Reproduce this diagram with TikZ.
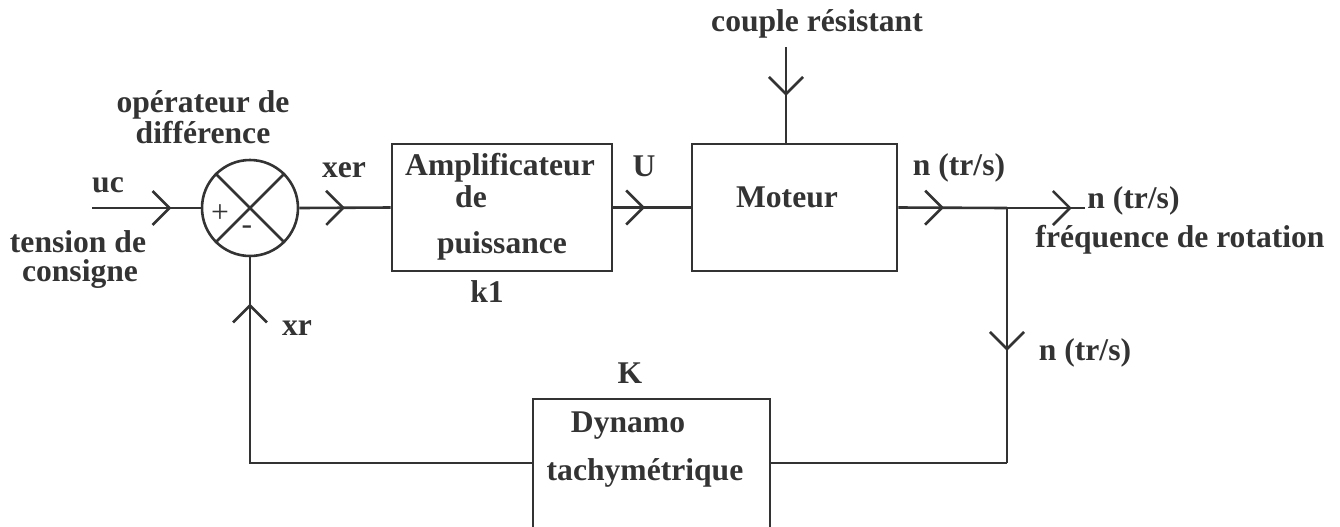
\documentclass[tikz,border=0pt]{standalone}
\usepackage{fontspec}
\setmainfont{Liberation Serif}
\usetikzlibrary{arrows.meta,decorations.markings}
\definecolor{ink}{HTML}{333333}
\tikzset{
  blk/.style={draw=ink, line width=1.3pt, inner sep=0pt},
  lbl/.style={anchor=base, text=ink, inner sep=0pt, font=\bfseries\fontsize{15.8}{19}\selectfont},
  sgn/.style={text=ink, inner sep=0pt, font=\fontsize{15.8}{19}\selectfont},
  wire/.style={draw=ink, color=ink, line width=1.3pt},
  vtip/.style={postaction={decorate}, decoration={markings,
      mark=at position #1 with {\arrow{Straight Barb[length=8.5pt,width=17pt]}}}}
}
\begin{document}
\begin{tikzpicture}[x=0.5pt, y=-0.5pt]
  \useasboundingbox (0,0) rectangle (1340,526);
  \clip (0,0) rectangle (1340,526);
  % blocks
  \node[blk, circle, minimum size=48pt] (sum) at (250,208) {};
  \node[blk, rectangle, minimum width=110pt, minimum height=63.5pt] (amp) at (502,207.5) {};
  \node[blk, rectangle, minimum width=102.5pt, minimum height=63.5pt] (mot) at (794.5,207.5) {};
  \node[blk, rectangle, minimum width=118.5pt, minimum height=67pt] (dyn) at (651.5,466) {};
  \draw[wire] (sum.north west) -- (sum.south east);
  \draw[wire] (sum.north east) -- (sum.south west);
  \node[sgn] (plus) at (220,214) {+};
  \node[sgn] (minus) at (247,230) {-};
  % free ends
  \coordinate (ucin) at (92,208);
  \coordinate (cpl) at (786,47);
  \coordinate (branch) at (1007,208);
  \coordinate (outend) at (1085,208);
  \coordinate (bot) at (1007,463);
  % connectors
  \draw[wire, vtip=0.73] (ucin) -- (sum.west);
  \draw[wire, vtip=0.5] (sum.east) -- (amp.west);
  \draw[wire, vtip=0.41] (amp.east) -- (mot.west);
  \draw[wire, vtip=0.51] (cpl) -- (cpl |- mot.north);
  \draw[wire, vtip=0.42] (mot.east) -- (branch);
  \draw[wire, vtip=0.83] (branch) -- (outend);
  \draw[wire, vtip=0.56] (branch) -- (bot);
  \draw[wire] (bot) -- (bot -| dyn.east);
  \draw[wire, vtip=0.905] (bot -| dyn.west) -| (sum.south);
  % texts
  \node[lbl] (opA) at (203,112) {opérateur de};
  \node[lbl] (opB) at (203,143) {différence};
  \node[lbl] (uc) at (108,192) {uc};
  \node[lbl] (tcA) at (78,252) {tension de};
  \node[lbl] (tcB) at (80,281) {consigne};
  \node[lbl] (xer) at (344,177) {xer};
  \node[lbl] (ampA) at (500,175) {Amplificateur};
  \node[lbl] (ampB) at (471,207) {de};
  \node[lbl] (ampC) at (502,253) {puissance};
  \node[lbl] (k1) at (487,302) {k1};
  \node[lbl] (U) at (644,176) {U};
  \node[lbl] (motT) at (787,207) {Moteur};
  \node[lbl] (cplT) at (817,31) {couple résistant};
  \node[lbl] (nA) at (959,175) {n (tr/s)};
  \node[lbl, anchor=base west] (nB) at (1087,208) {n (tr/s)};
  \node[lbl] (freq) at (1180,247) {fréquence de rotation};
  \node[lbl] (nC) at (1085,360) {n (tr/s)};
  \node[lbl] (xr) at (297,335) {xr};
  \node[lbl] (K) at (630,383) {K};
  \node[lbl] (dynA) at (628,432) {Dynamo};
  \node[lbl] (dynB) at (645,480) {tachymétrique};
\end{tikzpicture}
\end{document}
